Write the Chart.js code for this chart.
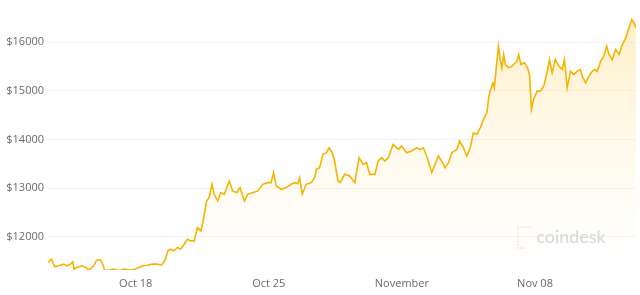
<!DOCTYPE html>
<html>
<head>
<meta charset="utf-8">
<script src="https://cdn.jsdelivr.net/npm/chart.js@4/dist/chart.umd.min.js"></script>
<style>
html,body{margin:0;padding:0;background:#fff;}
#wrap{width:640px;height:295px;position:relative;}
</style>
</head>
<body>
<div id="wrap"><canvas id="c" width="640" height="295"></canvas></div>
<script>
// Day numbers counted from Oct 1 (32 = Nov 1)
const days = [13.39,13.57,13.74,13.95,14.22,14.39,14.57,14.69,14.76,14.92,15.18,15.39,15.54,15.80,15.94,16.15,16.27,16.38,16.59,16.85,17.12,17.38,17.65,17.91,18.17,18.39,18.61,18.88,19.14,19.35,19.53,19.70,19.85,20.02,20.20,20.37,20.55,20.72,20.90,21.08,21.25,21.43,21.55,21.73,21.87,22.01,22.13,22.31,22.48,22.66,22.92,23.10,23.31,23.49,23.72,23.89,24.15,24.42,24.68,24.95,25.12,25.25,25.39,25.65,25.91,26.18,26.35,26.53,26.62,26.76,26.97,27.23,27.41,27.50,27.67,27.85,28.03,28.17,28.34,28.46,28.64,28.76,28.99,29.26,29.52,29.75,29.96,30.14,30.31,30.58,30.75,30.93,31.10,31.28,31.54,31.81,31.98,32.25,32.51,32.77,32.95,33.13,33.30,33.57,33.74,33.92,34.09,34.27,34.45,34.62,34.89,35.03,35.24,35.41,35.59,35.76,35.94,36.12,36.29,36.47,36.56,36.64,36.78,36.86,36.96,37.08,37.17,37.26,37.35,37.44,37.61,37.79,38.05,38.14,38.26,38.44,38.61,38.72,38.81,38.93,39.11,39.28,39.46,39.63,39.76,39.90,40.07,40.25,40.43,40.55,40.69,40.87,41.04,41.22,41.39,41.48,41.66,41.83,42.01,42.13,42.27,42.45,42.62,42.77,42.89,43.06,43.24,43.42,43.59,43.77,43.94,44.09,44.21,44.31];
const prices = [11474,11542,11385,11406,11440,11406,11440,11488,11337,11372,11406,11372,11317,11406,11522,11529,11440,11303,11317,11337,11303,11337,11317,11331,11372,11406,11419,11440,11440,11419,11508,11713,11747,11713,11781,11747,11850,11952,11918,11918,12191,12123,12328,12738,12806,13079,12874,12738,12908,12874,13147,12943,12908,13011,12738,12874,12908,12943,13079,13113,13113,13318,13045,12977,13011,13079,13113,13093,13216,12874,13079,13113,13216,13386,13421,13694,13728,13830,13728,13557,13147,13113,13284,13250,13113,13626,13489,13523,13284,13284,13557,13626,13557,13626,13899,13796,13865,13728,13762,13830,13796,13830,13660,13318,13489,13660,13557,13421,13523,13728,13796,13967,13830,13660,13830,14138,14104,14240,14411,14548,14855,14992,15162,15060,15470,15914,15640,15470,15743,15538,15470,15504,15606,15743,15538,15572,15470,15299,14616,14821,14992,14992,15094,15367,15640,15367,15640,15504,15435,15640,15060,15401,15333,15401,15435,15299,15162,15299,15401,15435,15401,15606,15709,15914,15743,15640,15845,15743,15948,16084,16289,16460,16392,16289];
const xTickValues = [18, 25, 32, 39];
const xTickLabels = ['Oct 18', 'Oct 25', 'November', 'Nov 08'];
const yTickValues = [12000, 13000, 14000, 15000, 16000];
const watermarkText = 'coindesk';

const points = days.map((d, i) => ({x: d, y: prices[i]}));

const watermark = {
  id: 'watermark',
  beforeDatasetsDraw(chart) {
    const ctx = chart.ctx;
    ctx.save();
    // dotted bracket logo
    ctx.fillStyle = 'rgba(246,206,110,0.32)';
    const lx = 517, ly = 226;
    for (let i = 0; i < 5; i++) { ctx.fillRect(lx + i * 3, ly, 2, 2); }
    for (let i = 1; i < 8; i++) { ctx.fillRect(lx, ly + i * 3, 2, 2); }
    for (let i = 1; i < 3; i++) { ctx.fillRect(lx + i * 3, ly + 21, 2, 2); }
    ctx.fillStyle = '#d6d6de';
    ctx.font = '20px Lato, sans-serif';
    const w = ctx.measureText(watermarkText).width;
    const size = 20 * 69 / w;
    ctx.font = size.toFixed(2) + 'px Lato, sans-serif';
    ctx.textBaseline = 'alphabetic';
    ctx.fillText(watermarkText, 536.5, 242.5);
    ctx.restore();
  }
};

const ctx = document.getElementById('c').getContext('2d');
const grad = ctx.createLinearGradient(0, 20, 0, 270);
grad.addColorStop(0, 'rgba(255,214,110,0.38)');
grad.addColorStop(1, 'rgba(255,236,190,0.0)');

new Chart(ctx, {
  type: 'line',
  data: {
    datasets: [{
      data: points,
      borderColor: '#f5b400',
      borderWidth: 1.6,
      pointRadius: 0,
      tension: 0,
      fill: 'start',
      backgroundColor: grad
    }]
  },
  options: {
    responsive: false,
    animation: false,
    events: [],
    layout: {padding: {top: 2, right: 4, bottom: 0, left: 0}},
    plugins: {legend: {display: false}, tooltip: {enabled: false}},
    scales: {
      x: {
        type: 'linear',
        min: days[0],
        max: days[days.length - 1],
        afterBuildTicks(scale) { scale.ticks = xTickValues.map(v => ({value: v})); },
        afterFit(scale) { scale.height = 25; },
        grid: {display: false, drawTicks: false},
        border: {display: false},
        ticks: {
          autoSkip: false,
          maxRotation: 0,
          padding: 7,
          color: '#666b73',
          font: {family: '"Open Sans", sans-serif', size: 11},
          callback(v) { const i = xTickValues.indexOf(v); return i >= 0 ? xTickLabels[i] : ''; }
        }
      },
      y: {
        min: 11320,
        max: 16645,
        afterBuildTicks(scale) { scale.ticks = yTickValues.map(v => ({value: v})); },
        afterFit(scale) { scale.width = 48; },
        grid: {color: '#f2f2f2', drawTicks: false, lineWidth: 1},
        border: {display: false},
        ticks: {
          padding: 4,
          color: '#666b73',
          font: {family: '"Open Sans", sans-serif', size: 11},
          callback(v) { return '$' + v; }
        }
      }
    }
  },
  plugins: [watermark]
});
</script>
</body>
</html>
